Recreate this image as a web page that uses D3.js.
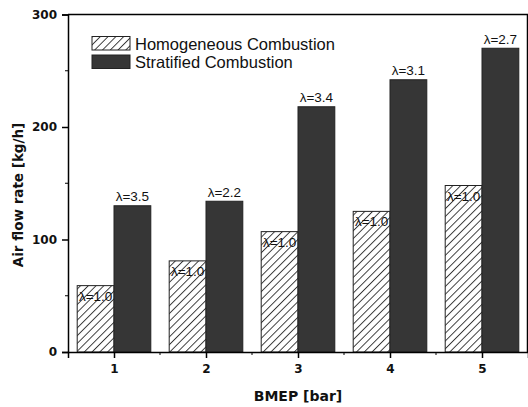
<!doctype html>
<html>
  <head>
    <meta charset="utf-8" />
    <title>Air flow rate vs BMEP</title>
    <style>
      body { margin: 0; background: #fff; }
      svg { display: block; }
    </style>
  </head>
  <body>
    <svg id="chart" width="528" height="407"></svg>
    <script src="https://d3js.org/d3.v7.min.js"></script>
    <script>
      // data
      const bmep = [1, 2, 3, 4, 5];
      const homogeneous = [59, 81, 107, 125, 148];
      const stratified = [130, 134, 218, 242, 270];
      const lambdaHom = ['λ=1.0', 'λ=1.0', 'λ=1.0', 'λ=1.0', 'λ=1.0'];
      const lambdaStrat = ['λ=3.5', 'λ=2.2', 'λ=3.4', 'λ=3.1', 'λ=2.7'];
      const yTicks = [0, 100, 200, 300];
      const yMinor = [50, 150, 250];
      const xMinor = [1.5, 2.5, 3.5, 4.5];

      const svg = d3.select('#chart');
      const plotL = 68, plotR = 528, plotT = 14.5, plotB = 352;

      const x = d3.scaleLinear().domain([0.5, 5.5]).range([plotL, plotR]);
      const y = d3.scaleLinear().domain([0, 300]).range([plotB, plotT]);
      const barW = x(1.4) - x(1);

      // hatch pattern
      const defs = svg.append('defs');
      const pat = defs.append('pattern')
        .attr('id', 'hatch')
        .attr('patternUnits', 'userSpaceOnUse')
        .attr('width', 5.5)
        .attr('height', 5.5)
        .attr('patternTransform', 'rotate(45)');
      pat.append('rect').attr('width', 5.5).attr('height', 5.5).attr('fill', '#fff');
      pat.append('line')
        .attr('x1', 0.5).attr('y1', 0).attr('x2', 0.5).attr('y2', 5.5)
        .attr('stroke', '#111').attr('stroke-width', 0.8);

      // bars
      svg.append('g').selectAll('rect')
        .data(bmep)
        .join('rect')
        .attr('x', (d) => x(d) - barW)
        .attr('y', (d, i) => y(homogeneous[i]))
        .attr('width', barW)
        .attr('height', (d, i) => plotB - y(homogeneous[i]))
        .attr('fill', 'url(#hatch)')
        .attr('stroke', '#222')
        .attr('stroke-width', 1);

      svg.append('g').selectAll('rect')
        .data(bmep)
        .join('rect')
        .attr('x', (d) => x(d))
        .attr('y', (d, i) => y(stratified[i]))
        .attr('width', barW)
        .attr('height', (d, i) => plotB - y(stratified[i]))
        .attr('fill', '#363636')
        .attr('stroke', '#222')
        .attr('stroke-width', 1);

      // lambda labels
      const lblFont = 'Liberation Sans, Arial, sans-serif';
      svg.append('g').selectAll('text')
        .data(bmep)
        .join('text')
        .attr('x', (d) => x(d) + barW / 2)
        .attr('y', (d, i) => y(stratified[i]) - 4.5)
        .attr('text-anchor', 'middle')
        .attr('font-family', lblFont)
        .attr('font-size', 13.5)
        .attr('fill', '#111')
        .text((d, i) => lambdaStrat[i]);

      svg.append('g').selectAll('text')
        .data(bmep)
        .join('text')
        .attr('x', (d) => x(d) - barW / 2)
        .attr('y', (d, i) => y(homogeneous[i]) + 15)
        .attr('text-anchor', 'middle')
        .attr('font-family', lblFont)
        .attr('font-size', 13.5)
        .attr('fill', '#111')
        .text((d, i) => lambdaHom[i]);

      // axes
      const tickFont = 'DejaVu Sans, Verdana, sans-serif';
      const yAxis = svg.append('g')
        .attr('transform', `translate(${plotL},0)`)
        .call(d3.axisLeft(y).tickValues(yTicks).tickSize(6).tickPadding(5).tickFormat(d3.format('d')));
      yAxis.append('g').selectAll('line')
        .data(yMinor)
        .join('line')
        .attr('x1', -3).attr('x2', 0)
        .attr('y1', (d) => y(d)).attr('y2', (d) => y(d))
        .attr('stroke', '#000');

      const xAxis = svg.append('g')
        .attr('transform', `translate(0,${plotB})`)
        .call(d3.axisBottom(x).tickValues(bmep).tickSize(6).tickPadding(6).tickFormat(d3.format('d')));
      xAxis.append('g').selectAll('line')
        .data(xMinor)
        .join('line')
        .attr('x1', (d) => x(d)).attr('x2', (d) => x(d))
        .attr('y1', 0).attr('y2', 3)
        .attr('stroke', '#000');

      [yAxis, xAxis].forEach((g) => {
        g.select('.domain').attr('stroke', '#000').attr('stroke-width', 1.5);
        g.selectAll('.tick line').attr('stroke', '#000').attr('stroke-width', 1.5);
        g.selectAll('text')
          .attr('font-family', tickFont)
          .attr('font-weight', 'bold')
          .attr('font-size', 12)
          .attr('fill', '#111');
      });

      // frame top and right
      svg.append('line')
        .attr('x1', plotL).attr('x2', plotR)
        .attr('y1', plotT).attr('y2', plotT)
        .attr('stroke', '#000').attr('stroke-width', 1.5);
      svg.append('line')
        .attr('x1', plotR - 0.5).attr('x2', plotR - 0.5)
        .attr('y1', plotT).attr('y2', plotB)
        .attr('stroke', '#000').attr('stroke-width', 1.5);

      // axis titles
      svg.append('text')
        .attr('transform', 'translate(23,195) rotate(-90)')
        .attr('text-anchor', 'middle')
        .attr('font-family', tickFont)
        .attr('font-weight', 'bold')
        .attr('font-size', 13.5)
        .attr('fill', '#111')
        .text('Air flow rate [kg/h]');
      svg.append('text')
        .attr('x', (plotL + plotR) / 2)
        .attr('y', 401)
        .attr('text-anchor', 'middle')
        .attr('font-family', tickFont)
        .attr('font-weight', 'bold')
        .attr('font-size', 14)
        .attr('fill', '#111')
        .text('BMEP [bar]');

      // legend
      const legendItems = ['Homogeneous Combustion', 'Stratified Combustion'];
      const legendFill = ['url(#hatch)', '#363636'];
      const lg = svg.append('g').attr('transform', 'translate(92,36.5)');
      lg.selectAll('rect')
        .data(legendItems)
        .join('rect')
        .attr('x', 0)
        .attr('y', (d, i) => i * 18.5)
        .attr('width', 38)
        .attr('height', 13.5)
        .attr('fill', (d, i) => legendFill[i])
        .attr('stroke', '#222');
      lg.selectAll('text')
        .data(legendItems)
        .join('text')
        .attr('x', 43)
        .attr('y', (d, i) => i * 18.5 + 13)
        .attr('font-family', lblFont)
        .attr('font-size', 16.5)
        .attr('fill', '#111')
        .text((d) => d);
    </script>
  </body>
</html>
